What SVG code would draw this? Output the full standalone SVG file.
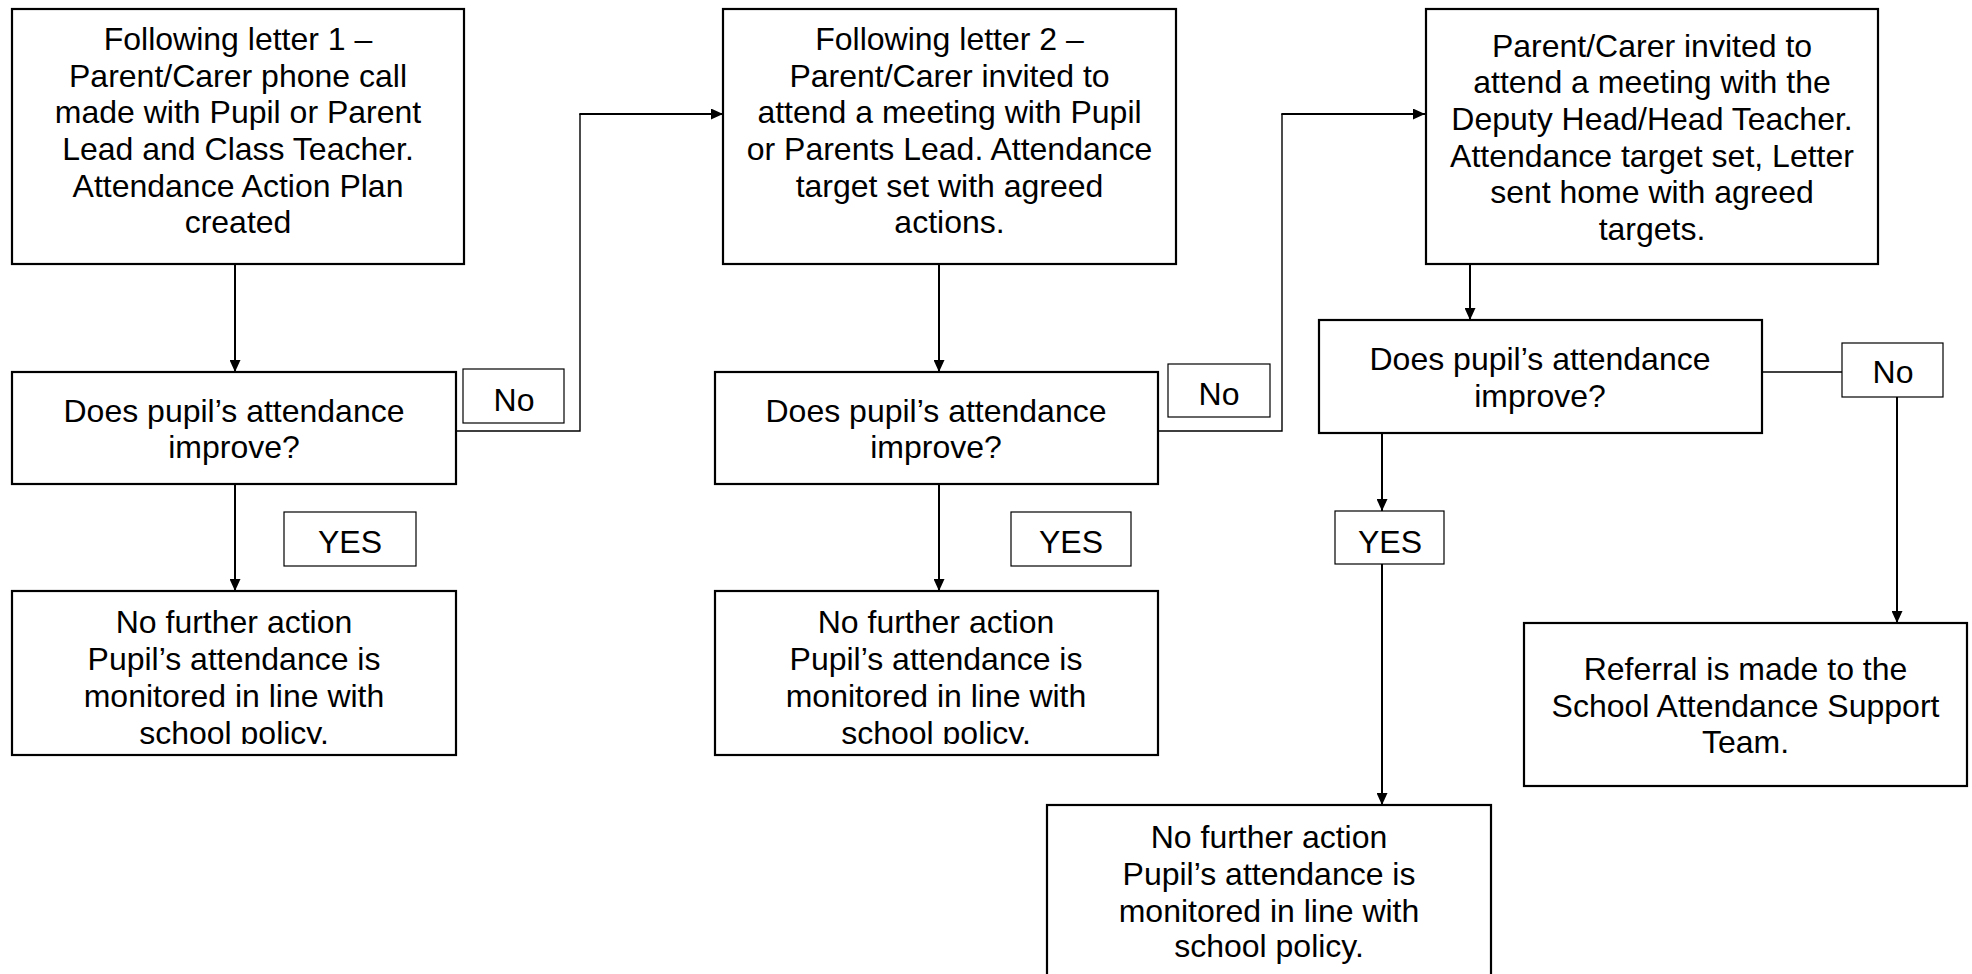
<svg xmlns="http://www.w3.org/2000/svg" width="1972" height="974" viewBox="0 0 1972 974">
<style>
  .box{fill:#fff;stroke:#000;stroke-width:2.2}
  .lbl{fill:#fff;stroke:#000;stroke-width:1.2}
  .t{font-family:"Liberation Sans",Arial,sans-serif;font-size:32px;fill:#000;text-anchor:middle}
  .c{fill:none;stroke:#000;stroke-width:2}
  .thin{fill:none;stroke:#000;stroke-width:1.4}
</style>
<defs>
  <marker id="ah" markerUnits="userSpaceOnUse" markerWidth="13" markerHeight="11" refX="12" refY="5.5" orient="auto">
    <path d="M0,0 L12,5.5 L0,11 z" fill="#000"/>
  </marker>
  <clipPath id="clip1"><rect x="12" y="591" width="444" height="153"/></clipPath>
  <clipPath id="clip2"><rect x="715" y="591" width="443" height="153"/></clipPath>
</defs>
<rect width="1972" height="974" fill="#fff"/>

<g id="connectors">
  <line class="c" x1="235" y1="264" x2="235" y2="372" marker-end="url(#ah)"/>
  <line class="c" x1="235" y1="484" x2="235" y2="591" marker-end="url(#ah)"/>
  <polyline class="thin" points="456,431 580,431 580,114"/>
  <line class="c" x1="579.3" y1="114" x2="723" y2="114" marker-end="url(#ah)"/>
  <line class="c" x1="939" y1="264" x2="939" y2="372" marker-end="url(#ah)"/>
  <line class="c" x1="939" y1="484" x2="939" y2="591" marker-end="url(#ah)"/>
  <polyline class="thin" points="1158,431 1282,431 1282,114"/>
  <line class="c" x1="1281.3" y1="114" x2="1425" y2="114" marker-end="url(#ah)"/>
  <line class="c" x1="1470" y1="264" x2="1470" y2="320" marker-end="url(#ah)"/>
  <line class="thin" x1="1762" y1="372" x2="1842" y2="372"/>
  <line class="c" x1="1897" y1="397" x2="1897" y2="623" marker-end="url(#ah)"/>
  <line class="c" x1="1382" y1="433" x2="1382" y2="511" marker-end="url(#ah)"/>
  <line class="c" x1="1382" y1="564" x2="1382" y2="805" marker-end="url(#ah)"/>
</g>

<g id="box1">
  <rect class="box" x="12" y="9" width="452" height="255"/>
  <text class="t"><tspan x="238" y="50">Following letter 1 –</tspan><tspan x="238" y="87">Parent/Carer phone call</tspan><tspan x="238" y="123">made with Pupil or Parent</tspan><tspan x="238" y="160">Lead and Class Teacher.</tspan><tspan x="238" y="197">Attendance Action Plan</tspan><tspan x="238" y="233">created</tspan></text>
</g>
<g id="decision1">
  <rect class="box" x="12" y="372" width="444" height="112"/>
  <text class="t"><tspan x="234" y="422">Does pupil’s attendance</tspan><tspan x="234" y="458">improve?</tspan></text>
</g>
<g id="no1">
  <rect class="lbl" x="463" y="369" width="101" height="54"/>
  <text class="t" x="514" y="411">No</text>
</g>
<g id="yes1">
  <rect class="lbl" x="284" y="512" width="132" height="54"/>
  <text class="t" x="350" y="553">YES</text>
</g>
<g id="nfa1">
  <rect class="box" x="12" y="591" width="444" height="164"/>
  <text class="t" clip-path="url(#clip1)"><tspan x="234" y="633">No further action</tspan><tspan x="234" y="670">Pupil’s attendance is</tspan><tspan x="234" y="707">monitored in line with</tspan><tspan x="234" y="744">school policy.</tspan></text>
</g>

<g id="box2">
  <rect class="box" x="723" y="9" width="453" height="255"/>
  <text class="t"><tspan x="949.5" y="50">Following letter 2 –</tspan><tspan x="949.5" y="87">Parent/Carer invited to</tspan><tspan x="949.5" y="123">attend a meeting with Pupil</tspan><tspan x="949.5" y="160">or Parents Lead. Attendance</tspan><tspan x="949.5" y="197">target set with agreed</tspan><tspan x="949.5" y="233">actions.</tspan></text>
</g>
<g id="decision2">
  <rect class="box" x="715" y="372" width="443" height="112"/>
  <text class="t"><tspan x="936" y="422">Does pupil’s attendance</tspan><tspan x="936" y="458">improve?</tspan></text>
</g>
<g id="no2">
  <rect class="lbl" x="1168" y="364" width="102" height="53"/>
  <text class="t" x="1219" y="405">No</text>
</g>
<g id="yes2">
  <rect class="lbl" x="1011" y="512" width="120" height="54"/>
  <text class="t" x="1071" y="553">YES</text>
</g>
<g id="nfa2">
  <rect class="box" x="715" y="591" width="443" height="164"/>
  <text class="t" clip-path="url(#clip2)"><tspan x="936" y="633">No further action</tspan><tspan x="936" y="670">Pupil’s attendance is</tspan><tspan x="936" y="707">monitored in line with</tspan><tspan x="936" y="744">school policy.</tspan></text>
</g>

<g id="box3">
  <rect class="box" x="1426" y="9" width="452" height="255"/>
  <text class="t"><tspan x="1652" y="57">Parent/Carer invited to</tspan><tspan x="1652" y="93">attend a meeting with the</tspan><tspan x="1652" y="130">Deputy Head/Head Teacher.</tspan><tspan x="1652" y="167">Attendance target set, Letter</tspan><tspan x="1652" y="203">sent home with agreed</tspan><tspan x="1652" y="240">targets.</tspan></text>
</g>
<g id="decision3">
  <rect class="box" x="1319" y="320" width="443" height="113"/>
  <text class="t"><tspan x="1540" y="370">Does pupil’s attendance</tspan><tspan x="1540" y="407">improve?</tspan></text>
</g>
<g id="no3">
  <rect class="lbl" x="1842" y="343" width="101" height="54"/>
  <text class="t" x="1893" y="383">No</text>
</g>
<g id="yes3">
  <rect class="lbl" x="1335" y="511" width="109" height="53"/>
  <text class="t" x="1390" y="553">YES</text>
</g>
<g id="referral">
  <rect class="box" x="1524" y="623" width="443" height="163"/>
  <text class="t"><tspan x="1745.5" y="680">Referral is made to the</tspan><tspan x="1745.5" y="717">School Attendance Support</tspan><tspan x="1745.5" y="753">Team.</tspan></text>
</g>
<g id="nfa3">
  <rect class="box" x="1047" y="805" width="444" height="200"/>
  <text class="t"><tspan x="1269" y="848">No further action</tspan><tspan x="1269" y="885">Pupil’s attendance is</tspan><tspan x="1269" y="922">monitored in line with</tspan><tspan x="1269" y="957">school policy.</tspan></text>
</g>
</svg>
